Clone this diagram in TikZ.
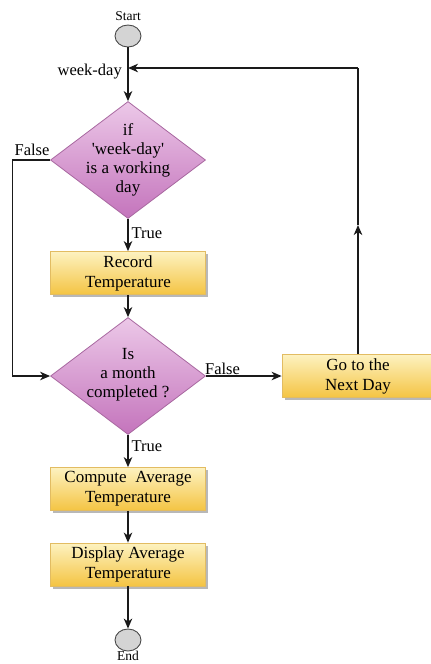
\documentclass[tikz,border=0pt]{standalone}
\usepackage{fontspec}
\setmainfont{Liberation Serif}
\usetikzlibrary{shapes.geometric,shadows,arrows.meta}
\definecolor{diaTop}{HTML}{ECC8E8}
\definecolor{diaBot}{HTML}{C474BC}
\definecolor{diaLine}{HTML}{A868A0}
\definecolor{boxTop}{HTML}{FDF2C0}
\definecolor{boxBot}{HTML}{F4C443}
\definecolor{boxLine}{HTML}{E2BC62}
\definecolor{termFill}{HTML}{D4D4D4}
\definecolor{lineCol}{HTML}{1A1A1A}
\tikzset{
  dia/.style={diamond, draw=diaLine, line width=0.8pt, top color=diaTop, bottom color=diaBot,
    minimum width=155pt, minimum height=117pt, inner sep=0pt, aspect=1.33},
  procbox/.style={rectangle, draw=boxLine, line width=0.8pt, top color=boxTop, bottom color=boxBot,
    minimum width=155pt, minimum height=43pt, inner sep=0pt, align=center,
    font=\rmfamily\fontsize{17}{20}\selectfont,
    drop shadow={shadow xshift=2.5pt, shadow yshift=-2.5pt, fill=black!35, opacity=0.8}},
  term/.style={ellipse, draw=black!70, line width=0.9pt, fill=termFill, minimum width=26pt, minimum height=22pt, inner sep=0pt},
  txt/.style={align=center, font=\rmfamily\fontsize{17}{19}\selectfont, inner sep=0pt},
  lbl/.style={font=\rmfamily\fontsize{16.5}{19}\selectfont, inner sep=1pt},
  small/.style={font=\rmfamily\fontsize{13.5}{16}\selectfont, inner sep=0pt},
  arr/.style={-{Stealth[length=10pt,width=8.5pt,inset=3pt]}, draw=lineCol, line width=1.3pt},
  ln/.style={draw=lineCol, line width=1.3pt}
}
\begin{document}
\begin{tikzpicture}[x=1pt,y=-1pt]
\useasboundingbox (0,0) rectangle (431,664);
\begin{scope}
\clip (0,0) rectangle (431,664);
\node[term] (start) at (128,36) {};
\node[small] (startlbl) at (128,16) {Start};
\coordinate (j) at (128,68);
\node[dia] (d1) at (128,160) {};
\node[txt] (d1t) at (128,160) {if\\\textquotesingle week-day\textquotesingle\\is a working\\day};
\node[procbox] (rec) at (128,273) {Record\\Temperature};
\node[dia] (d2) at (128,376) {};
\node[txt] (d2t) at (128,375) {Is\\a month\\completed ?};
\node[procbox, minimum width=152pt] (nd) at (358,376) {Go to the\\Next Day};
\node[procbox] (comp) at (128,489) {Compute\ \ Average\\Temperature};
\node[procbox] (disp) at (128,564.5) {Display Average\\Temperature};
\node[term] (end) at (128,640) {};
\node[small] (endlbl) at (128,656) {End};

\coordinate (lc1) at (12.5,160);
\coordinate (lc2) at (12.5,376);
\coordinate (rm) at (358,225);
\coordinate (rt) at (358,68);

\draw[arr] (start) -- (d1.north);
\node[lbl, anchor=east] (wd) at (123,72) {week-day};
\draw[arr] (d1.south) -- node[lbl, anchor=west, pos=0.45, xshift=2pt] (t1) {True} (rec.north);
\draw[arr] (rec.south) -- (d2.north);
\draw[arr] (d1.west) -- (lc1) -- (lc2) -- (d2.west);
\node[lbl, anchor=south] (f1) at (32,157) {False};
\draw[arr] (d2.east) -- node[lbl, anchor=south, pos=0.22] (f2) {False} (nd.west);
\draw[arr] (d2.south) -- node[lbl, anchor=west, pos=0.35, xshift=2pt] (t2) {True} (comp.north);
\draw[arr] (comp.south) -- (disp.north);
\draw[arr] (disp.south) -- (end);
\draw[arr] (nd.north) -- (rm);
\draw[ln] (rm) -- (rt);
\draw[arr] (rt) -- (j);
\end{scope}
\end{tikzpicture}
\end{document}
